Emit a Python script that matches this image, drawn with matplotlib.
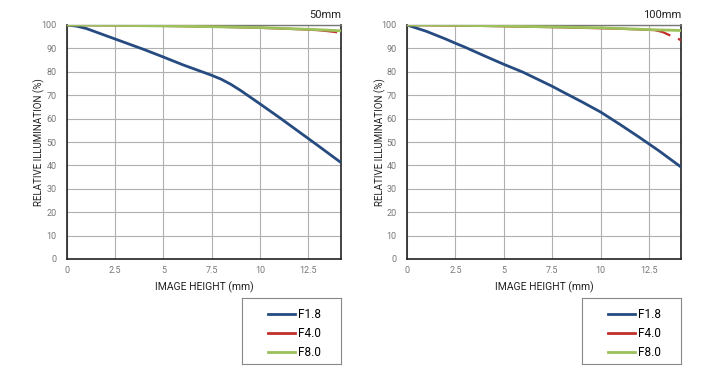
import numpy as np
import matplotlib.pyplot as plt
from matplotlib.lines import Line2D

plt.rcParams['font.family'] = ['Roboto', 'DejaVu Sans']

# ====== data ======
x50_f18 = [0, 0.5, 1, 2, 3, 4, 5, 6, 7, 7.5, 8, 8.5, 9, 10, 11, 12, 13, 14.2]
y50_f18 = [100, 99.5, 98.5, 95.5, 92.5, 89.5, 86.3, 83, 80, 78.5, 76.8, 74.6, 72, 66.3, 60.5, 54.5, 48.5, 41.2]
x50_f40 = [0, 2, 4, 6, 8, 10, 11, 12, 13, 13.5, 14, 14.1, 14.2]
y50_f40 = [100, 99.9, 99.7, 99.5, 99.2, 98.8, 98.5, 98.2, 97.8, 97.4, 96.9, np.nan, 96.0]
x50_f80 = [0, 2, 4, 6, 8, 10, 11, 12, 13, 13.5, 14, 14.2]
y50_f80 = [100, 99.9, 99.7, 99.5, 99.2, 98.9, 98.6, 98.3, 98.0, 97.8, 97.6, 97.5]

x100_f18 = [0, 1, 2, 2.5, 3, 4, 5, 6, 7, 7.5, 8, 9, 10, 11, 12, 13, 14.15]
y100_f18 = [100, 97.3, 94, 92.2, 90.5, 86.8, 83.2, 79.8, 75.8, 73.8, 71.6, 67.3, 62.8, 57.5, 52, 46.3, 39.3]
x100_f40 = [0, 2, 4, 6, 8, 10, 11, 12, 12.8, 13.2, 13.6, 13.8, 14.0, 14.15]
y100_f40 = [100, 99.8, 99.6, 99.3, 99, 98.6, 98.4, 98.1, 97.8, 97.0, 95.5, np.nan, 94.2, 93.4]
x100_f80 = [0, 2, 4, 6, 8, 10, 11, 12, 13, 14, 14.15]
y100_f80 = [100, 99.9, 99.7, 99.4, 99.1, 98.8, 98.5, 98.2, 97.9, 97.7, 97.6]

labels = ['F1.8', 'F4.0', 'F8.0']
colors = ['#264b80', '#c0302b', '#9cc05a']
xticks = [0, 2.5, 5, 7.5, 10, 12.5]
xticklabels = ['0', '2.5', '5', '7.5', '10', '12.5']
yticks = list(range(0, 101, 10))

panels = [
    ('50mm', 14.2, [(x50_f18, y50_f18), (x50_f40, y50_f40), (x50_f80, y50_f80)]),
    ('100mm', 14.15, [(x100_f18, y100_f18), (x100_f40, y100_f40), (x100_f80, y100_f80)]),
]

fig = plt.figure(figsize=(7.11, 3.77), dpi=100)
lefts = [67 / 711, 407 / 711]
W = 274 / 711
B = 1 - 259 / 377
H = 234 / 377

for (title, xmax, series), left in zip(panels, lefts):
    ax = fig.add_axes([left, B, W, H])
    for (xs, ys), c, lw in zip(series, colors, [2.0, 1.6, 2.0]):
        ax.plot(xs, ys, color=c, lw=lw, solid_capstyle='butt', zorder=3)
    ax.set_xlim(0, xmax)
    ax.set_ylim(0, 100)
    ax.set_xticks(xticks)
    ax.set_xticklabels(xticklabels)
    ax.set_yticks(yticks)
    ax.grid(True, color='#b0b0b0', lw=0.8)
    ax.tick_params(axis='x', length=0, labelsize=6.5, colors='#777777', pad=5)
    ax.tick_params(axis='y', length=0, labelsize=6.5, colors='#777777', pad=7.5)
    for s in ['left', 'bottom', 'right']:
        ax.spines[s].set_color('#222222')
        ax.spines[s].set_linewidth(1.2)
    ax.spines['top'].set_color('#777777')
    ax.spines['top'].set_linewidth(1.0)
    ax.set_xlabel('IMAGE HEIGHT (mm)', fontsize=7.5, color='#222222', labelpad=5)
    ax.set_ylabel('RELATIVE ILLUMINATION (%)', fontsize=7, color='#222222', labelpad=-3)
    ax.text(1.0, 1.02, title, transform=ax.transAxes, ha='right', va='bottom',
            fontsize=8, color='#222222')

    # legend box below the plot
    lax = fig.add_axes([left + 175 / 711, 13 / 377, 99 / 711, 66 / 377])
    lax.set_xticks([])
    lax.set_yticks([])
    for s in lax.spines.values():
        s.set_color('#888888')
        s.set_linewidth(0.8)
    handles = [Line2D([0], [0], color=c, lw=2) for c in colors]
    lax.legend(handles, labels, loc='center left', frameon=False, fontsize=8.5,
               handlelength=2.3, handletextpad=0.3, labelspacing=0.48,
               borderpad=0, borderaxespad=0, bbox_to_anchor=(0.26, 0.46))

fig.savefig('out.png', dpi=100)
